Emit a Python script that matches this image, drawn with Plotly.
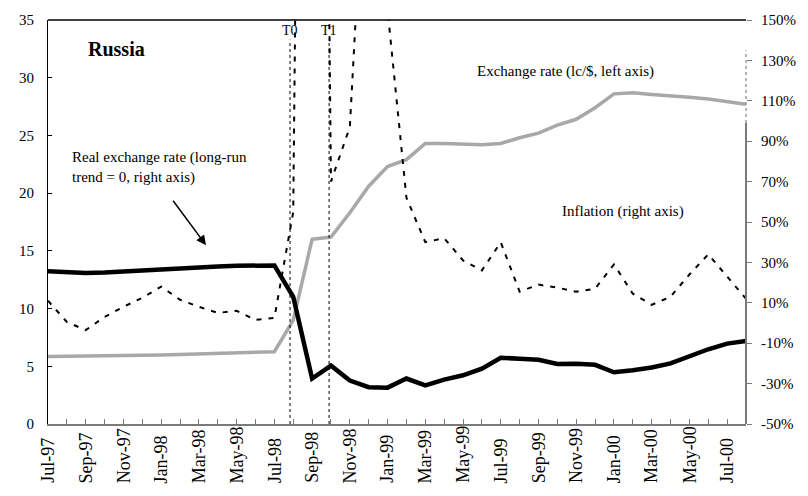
import plotly.graph_objects as go

# Monthly observations, Jul-97 .. Aug-00
months = ["Jul-97", "Aug-97", "Sep-97", "Oct-97", "Nov-97", "Dec-97",
          "Jan-98", "Feb-98", "Mar-98", "Apr-98", "May-98", "Jun-98",
          "Jul-98", "Aug-98", "Sep-98", "Oct-98", "Nov-98", "Dec-98",
          "Jan-99", "Feb-99", "Mar-99", "Apr-99", "May-99", "Jun-99",
          "Jul-99", "Aug-99", "Sep-99", "Oct-99", "Nov-99", "Dec-99",
          "Jan-00", "Feb-00", "Mar-00", "Apr-00", "May-00", "Jun-00",
          "Jul-00", "Aug-00"]

# Nominal exchange rate, roubles per US dollar (left axis)
exchange_rate = [5.85, 5.86, 5.88, 5.90, 5.92, 5.95, 5.98, 6.02, 6.06, 6.10,
                 6.14, 6.19, 6.26, 9.0, 16.0, 16.2, 18.3, 20.6, 22.3, 22.9,
                 24.3, 24.3, 24.25, 24.2, 24.3, 24.8, 25.2, 25.9, 26.4, 27.4,
                 28.6, 28.7, 28.55, 28.45, 28.3, 28.15, 27.9, 27.7]

# Inflation, annualised %, right axis
inflation = [11, 0.5, -3.5, 3, 8, 12.5, 18, 11.5, 8, 5,
             6, 1.5, 2.5, 55, 1000, 70, 97, 270, 155, 62,
             40, 42, 31, 26, 40, 15.5, 19, 17.5, 15.5, 17,
             29, 14.5, 9, 13, 24, 34, 23, 12]

# Real exchange rate, % deviation from long-run trend (right axis)
real_rate = [25.6, 25.2, 24.8, 25.0, 25.5, 26.2, 26.9, 27.3, 27.7, 28.0,
             28.3, 28.5, 28.5, 13.0, -27.5, -21.1, -28.5, -31.8, -32.0, -27.5,
             -30.9, -28.0, -25.9, -22.6, -17.2, -17.7, -18.2, -20.3, -20.2, -20.7,
             -24.4, -23.4, -22.0, -20.0, -16.5, -13.0, -10.2, -8.9]

left_ticks = [0, 5, 10, 15, 20, 25, 30, 35]
right_ticks = [-50, -30, -10, 10, 30, 50, 70, 90, 110, 130, 150]
right_ticktext = [f"{v}%" for v in right_ticks]

# Crisis markers (fractional month index)
t0_pos, t1_pos = 12.83, 14.9

idx = list(range(len(months)))
W, H = 808, 496
L, R, T, B = 48, 746, 15, 424
SERIF = "Liberation Serif, Times New Roman, serif"


def px(xp):
    return (xp - L) / (R - L)


def py(yp):
    return (B - yp) / (B - T)


fig = go.Figure()
fig.add_trace(go.Scatter(x=idx, y=exchange_rate, mode="lines", yaxis="y",
                         line=dict(color="#a8a8a8", width=3.5),
                         name="Exchange rate"))
fig.add_trace(go.Scatter(x=idx, y=inflation, mode="lines", yaxis="y2",
                         line=dict(color="black", width=2, dash="5px,7px"),
                         name="Inflation"))
fig.add_trace(go.Scatter(x=idx, y=real_rate, mode="lines", yaxis="y2",
                         line=dict(color="black", width=4.5),
                         name="Real exchange rate"))

shapes = [
    # top frame line
    dict(type="line", xref="paper", yref="paper", x0=0, x1=1, y0=1, y1=1,
         line=dict(color="black", width=1.5)),
    # right axis line
    dict(type="line", xref="paper", yref="y2", x0=1, x1=1, y0=-50, y1=99,
         line=dict(color="#7a7a7a", width=2)),
    dict(type="line", xref="paper", yref="y2", x0=1, x1=1, y0=99, y1=135,
         line=dict(color="#9a9a9a", width=1.5, dash="dot")),
]
for pos in (t0_pos, t1_pos):
    shapes.append(dict(type="line", xref="x", yref="y", x0=pos, x1=pos,
                       y0=0, y1=33.3,
                       line=dict(color="black", width=1, dash="dot")))

annotations = [
    dict(text="<b>Russia</b>", x=px(86), y=py(44), xanchor="left",
         yanchor="middle", font=dict(size=20)),
    dict(text="Real exchange rate (long-run<br>trend = 0, right axis)",
         x=px(70), y=py(144), xanchor="left", yanchor="top", align="left",
         font=dict(size=15)),
    dict(text="Exchange rate (lc/$, left axis)", x=px(475), y=py(67),
         xanchor="left", yanchor="middle", font=dict(size=15)),
    dict(text="Inflation (right axis)", x=px(560), y=py(209),
         xanchor="left", yanchor="middle", font=dict(size=15)),
    dict(text="T0", x=t0_pos, xref="x", y=py(26), xanchor="center",
         yanchor="middle", font=dict(size=14)),
    dict(text="T1", x=t1_pos, xref="x", y=py(26), xanchor="center",
         yanchor="middle", font=dict(size=14)),
    dict(text="", x=px(206), y=py(243), showarrow=True, ax=-34, ay=-46,
         arrowhead=2, arrowsize=1.3, arrowwidth=1.5, arrowcolor="black"),
]
for i in range(0, len(months), 2):
    annotations.append(dict(text=months[i], x=i, xref="x", y=py(486),
                            yref="paper", xanchor="center", yanchor="bottom",
                            textangle=-90, showarrow=False,
                            font=dict(size=18)))

for a in annotations:
    a.setdefault("xref", "paper")
    a.setdefault("yref", "paper")
    a.setdefault("showarrow", False)
    a["font"] = dict(family=SERIF, color="black", **a["font"]) if "font" in a else dict(family=SERIF, color="black")

fig.update_layout(
    width=W, height=H,
    margin=dict(l=L, r=W - R, t=T, b=H - B, pad=0),
    paper_bgcolor="white", plot_bgcolor="white",
    showlegend=False,
    font=dict(family=SERIF, color="black"),
    xaxis=dict(range=[0, len(months) - 1], tickvals=idx, showticklabels=False,
               ticks="inside", ticklen=5, tickcolor="#7a7a7a", tickwidth=1,
               showline=True, linecolor="#7a7a7a", linewidth=2,
               showgrid=False, zeroline=False),
    yaxis=dict(range=[0, 35], tickvals=left_ticks, ticks="inside", ticklen=4,
               tickcolor="black", showline=True, linecolor="black",
               linewidth=1, showgrid=False, zeroline=False,
               tickfont=dict(family=SERIF, size=15), ticklabelstandoff=10),
    yaxis2=dict(range=[-50, 150], overlaying="y", side="right",
                tickvals=right_ticks, ticktext=right_ticktext,
                ticks="outside", ticklen=5, tickcolor="#7a7a7a",
                showline=False, showgrid=False, zeroline=False,
                tickfont=dict(family=SERIF, size=15), ticklabelstandoff=6),
    shapes=shapes,
    annotations=annotations,
)

fig.write_html("out.html")
